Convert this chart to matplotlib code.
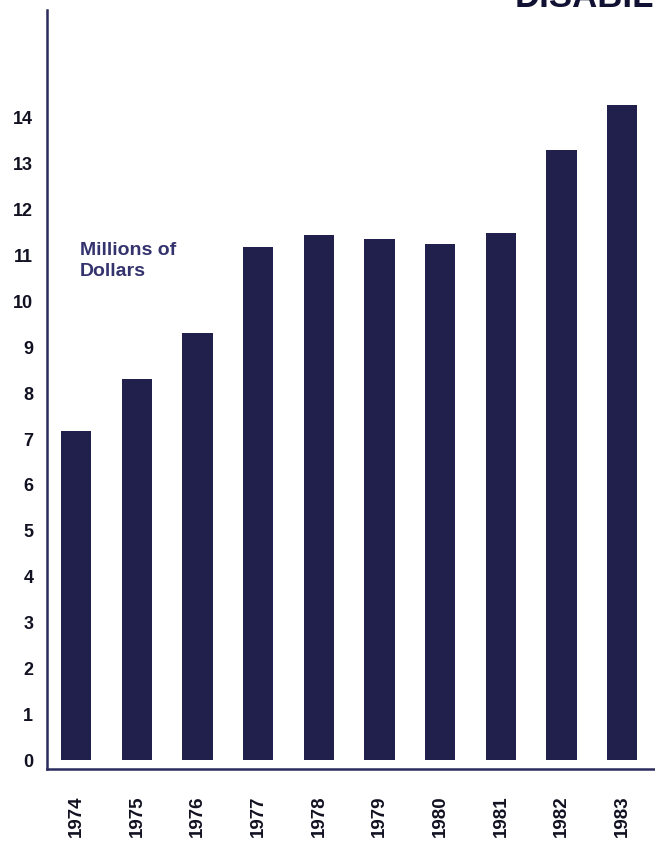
import matplotlib.pyplot as plt
import numpy as np

plt.rcParams['font.family'] = ['Liberation Sans', 'DejaVu Sans']

years = ["1974", "1975", "1976", "1977", "1978", "1979", "1980", "1981", "1982", "1983"]
values = [7.17, 8.30, 9.30, 11.18, 11.44, 11.37, 11.24, 11.48, 13.29, 14.29]
yticks = list(range(0, 15))

navy = "#211f4c"

fig = plt.figure(figsize=(6.55, 8.42), dpi=100)
ax = fig.add_axes([0.072, 0.0867, 0.928, 0.902])

x = np.arange(len(years))
ax.bar(x, values, width=0.5, color=navy)

ax.set_xlim(-0.48, 9.54)
ax.set_ylim(-0.19, 16.36)

ax.set_yticks(yticks)
ax.set_yticklabels([str(t) for t in yticks], fontsize=13, fontweight="bold", color="#111122")
ax.set_xticks(x)
ax.set_xticklabels(years, rotation=90, fontsize=13.5, fontweight="bold", color="#111122")
ax.tick_params(axis="y", length=0, pad=10)
ax.tick_params(axis="x", length=0, pad=19)

for s in ["top", "right"]:
    ax.spines[s].set_visible(False)
for s in ["left", "bottom"]:
    ax.spines[s].set_color("#2c2b5e")
    ax.spines[s].set_linewidth(1.8)

ax.text(0.06, 11.3, "Millions of\nDollars", fontsize=14, fontweight="bold",
        color="#34336e", va="top", ha="left", linespacing=1.3)

fig.text(515 / 655, 1 - 7 / 842, "DISABILITY", fontsize=25, fontweight="bold",
         color="#111133", ha="left", va="baseline")

fig.savefig("out.png", dpi=100)
